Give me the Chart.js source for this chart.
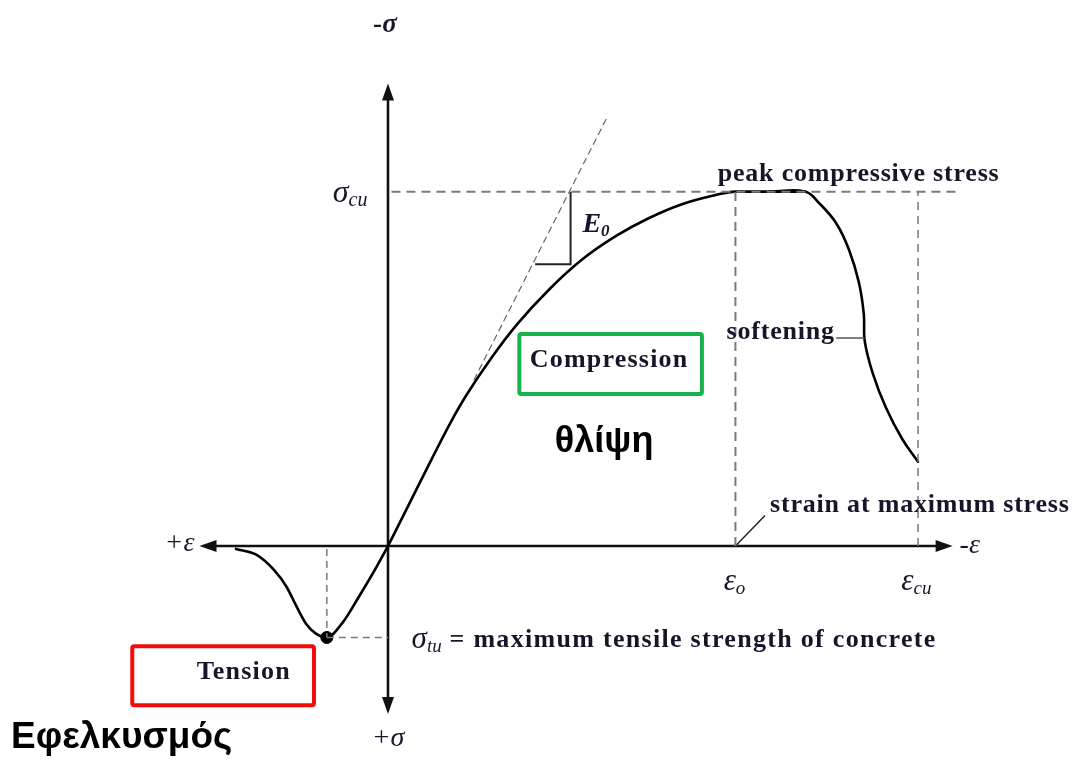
<!DOCTYPE html>
<html lang="el">
<head>
<meta charset="UTF-8">
<title>Concrete stress-strain curve</title>
<script src="https://cdn.jsdelivr.net/npm/chart.js"></script>
<style>
  html, body { margin: 0; padding: 0; background: #fff; }
  #wrap { width: 1080px; height: 765px; }
</style>
</head>
<body>
<div id="wrap"><canvas id="curve" width="1080" height="765"></canvas></div>
<script>
  // strain on x (ε0 = 2), stress on y (σcu = 1); compression drawn positive (right / up)
  // rising branch up to the end of the peak plateau
  const riseStrain = [0, 0.125, 0.25, 0.364, 0.449, 0.591, 0.744, 0.932, 1.119, 1.313, 1.5, 1.688, 1.881, 2.0, 2.2, 2.403];
  const riseStress = [0, 0.122, 0.244, 0.352, 0.424, 0.528, 0.626, 0.726, 0.809, 0.875, 0.925, 0.964, 0.99, 1.0, 1.0, 1.0];
  // softening branch after the plateau
  const softStrain = [2.2, 2.403, 2.483, 2.58, 2.653, 2.71, 2.739, 2.744, 2.79, 2.864, 2.96, 3.051];
  const softStress = [1.0, 1.0, 0.967, 0.911, 0.837, 0.745, 0.654, 0.579, 0.488, 0.393, 0.302, 0.238];

  const tensStrain = [-0.875, -0.756, -0.659, -0.585, -0.528, -0.472, -0.415, -0.352, -0.261, -0.165, -0.074, 0];
  const tensStress = [-0.008, -0.025, -0.066, -0.114, -0.169, -0.219, -0.247, -0.258, -0.216, -0.141, -0.066, 0];

  // key values
  const eps0 = 2.0, epsCu = 3.051, sigCu = 1.0;
  const epsTu = -0.352, sigTu = -0.258;

  // initial tangent (E0) and its slope triangle
  const tangentStrain = [0.494, 1.256];
  const tangentStress = [0.468, 1.205];
  const triStrain = [0.847, 1.051, 1.051];
  const triStress = [0.795, 0.795, 1.0];

  // axes extents
  const axisStrain = [-1.085, 3.25];
  const axisStress = [-0.474, 1.305];
  const peakLineEnd = 3.29;

  const pts = (xs, ys) => xs.map((x, i) => ({ x: x, y: ys[i] }));

  const dashGrey = { borderColor: '#7a7a7a', borderWidth: 2, borderDash: [9, 6], pointRadius: 0, tension: 0, showLine: true, fill: false };
  const curve = { borderColor: '#000', borderWidth: 2.6, pointRadius: 0, showLine: true, borderCapStyle: 'round', borderJoinStyle: 'round' };

  const datasets = [
    Object.assign({}, dashGrey, { data: pts([0.02, peakLineEnd], [sigCu, sigCu]) }),
    Object.assign({}, dashGrey, { data: pts([eps0, eps0], [0, sigCu]) }),
    Object.assign({}, dashGrey, { borderWidth: 1.5, borderDash: [8, 6], data: pts([epsCu, epsCu], [0, sigCu]) }),
    Object.assign({}, dashGrey, { borderWidth: 1.5, borderDash: [7, 5], data: pts([epsTu, epsTu], [-0.008, sigTu]) }),
    Object.assign({}, dashGrey, { borderWidth: 1.5, borderDash: [7, 5], data: pts([epsTu, 0], [sigTu, sigTu]) }),
    Object.assign({}, dashGrey, { borderColor: '#666', borderWidth: 1.2, borderDash: [7, 4], data: pts(tangentStrain, tangentStress) }),
    { data: pts(triStrain, triStress), borderColor: '#222', borderWidth: 2, pointRadius: 0, tension: 0, showLine: true },
    // leader lines
    { data: pts([2.58, 2.744], [0.587, 0.587]), borderColor: '#555', borderWidth: 1.5, pointRadius: 0, showLine: true },
    { data: pts([eps0, 2.17], [0, 0.086]), borderColor: '#222', borderWidth: 1.5, pointRadius: 0, showLine: true },
    // curves
    Object.assign({}, curve, { data: pts(riseStrain, riseStress), cubicInterpolationMode: 'monotone' }),
    Object.assign({}, curve, { data: pts(softStrain, softStress), tension: 0.4 }),
    Object.assign({}, curve, { data: pts(tensStrain, tensStress), cubicInterpolationMode: 'monotone' }),
    { data: [{ x: epsTu, y: sigTu }], pointRadius: 6, pointBackgroundColor: '#000', pointBorderColor: '#000', showLine: false }
  ];

  const serif = "'Liberation Serif', 'Times New Roman', serif";
  const sans = "'Liberation Sans', Arial, sans-serif";
  const ink = '#16162a';

  // text labels placed in data units
  const labels = [
    { x: 2.199, y: 0.116, text: 'strain at maximum stress', font: 'bold 26px ' + serif, align: 'left', ls: 0.8 },
    { x: 1.898, y: 1.05, text: 'peak compressive stress', font: 'bold 26px ' + serif, align: 'left', ls: 0.8 },
    { x: 1.949, y: 0.604, text: 'softening', font: 'bold 26px ' + serif, align: 'left', ls: 0.8 },
    { x: 1.273, y: 0.524, text: 'Compression', font: 'bold 26px ' + serif, align: 'center', ls: 1.2 },
    { x: -0.83, y: -0.355, text: 'Tension', font: 'bold 26px ' + serif, align: 'center', ls: 1.2 },
    { x: 1.244, y: 0.294, text: 'θλίψη', font: 'bold 36px ' + sans, align: 'center', color: '#000' },
    { x: -2.17, y: -0.54, text: 'Εφελκυσμός', font: 'bold 37px ' + sans, align: 'left', color: '#000' },
    { x: -1.114, y: 0.008, text: '+ε', font: 'italic 28px ' + serif, align: 'right' },
    { x: 3.29, y: 0.0, text: '-ε', font: 'italic 28px ' + serif, align: 'left' },
    { x: -0.017, y: 1.471, text: '-σ', font: 'bold italic 27px ' + serif, align: 'center' },
    { x: 0, y: -0.543, text: '+σ', font: 'italic 28px ' + serif, align: 'center' }
  ];
  // labels with a subscript
  const subLabels = [
    { x: -0.318, y: 0.994, main: 'σ', sub: 'cu', size: 32 },
    { x: 1.932, y: -0.102, main: 'ε', sub: 'o', size: 31 },
    { x: 2.955, y: -0.102, main: 'ε', sub: 'cu', size: 31 },
    { x: 1.119, y: 0.906, main: 'E', sub: '0', size: 28, bold: true },
    { x: 0.136, y: -0.266, main: 'σ', sub: 'tu', size: 31, tail: ' = maximum tensile strength of concrete' }
  ];
  const boxes = [
    { x0: 0.756, x1: 1.807, y0: 0.598, y1: 0.429, color: '#17b24a' },
    { x0: -1.472, x1: -0.426, y0: -0.283, y1: -0.449, color: '#f20d0d' }
  ];

  const overlay = {
    id: 'overlay',
    beforeDatasetsDraw(chart) {
      const c = chart.ctx, sx = chart.scales.x, sy = chart.scales.y;
      const x0 = sx.getPixelForValue(0), y0 = sy.getPixelForValue(0);
      c.save();
      c.strokeStyle = '#111';
      c.fillStyle = '#111';
      c.lineWidth = 2.6;
      const l = sx.getPixelForValue(axisStrain[0]), r = sx.getPixelForValue(axisStrain[1]);
      const t = sy.getPixelForValue(axisStress[1]), b = sy.getPixelForValue(axisStress[0]);
      c.beginPath();
      c.moveTo(l + 14, y0); c.lineTo(r - 14, y0);
      c.moveTo(x0, t + 14); c.lineTo(x0, b - 14);
      c.stroke();
      const head = (px, py, dx, dy) => {
        c.beginPath();
        c.moveTo(px, py);
        c.lineTo(px - dx * 17 - dy * 6, py - dy * 17 - dx * 6);
        c.lineTo(px - dx * 17 + dy * 6, py - dy * 17 + dx * 6);
        c.closePath();
        c.fill();
      };
      head(l, y0, -1, 0);
      head(r, y0, 1, 0);
      head(x0, t, 0, -1);
      head(x0, b, 0, 1);
      c.restore();
    },
    afterDatasetsDraw(chart) {
      const c = chart.ctx, sx = chart.scales.x, sy = chart.scales.y;
      c.save();
      boxes.forEach(bx => {
        const a = sx.getPixelForValue(bx.x0), b = sx.getPixelForValue(bx.x1);
        const p = sy.getPixelForValue(bx.y0), q = sy.getPixelForValue(bx.y1);
        c.strokeStyle = bx.color;
        c.lineWidth = 4;
        c.beginPath();
        c.roundRect(a, p, b - a, q - p, 2);
        c.stroke();
      });
      c.textBaseline = 'middle';
      labels.forEach(lb => {
        c.font = lb.font;
        c.letterSpacing = (lb.ls || 0) + 'px';
        c.fillStyle = lb.color || ink;
        c.textAlign = lb.align;
        c.fillText(lb.text, sx.getPixelForValue(lb.x), sy.getPixelForValue(lb.y));
      });
      c.textAlign = 'left';
      c.letterSpacing = '0px';
      subLabels.forEach(lb => {
        let px = sx.getPixelForValue(lb.x);
        const py = sy.getPixelForValue(lb.y);
        c.fillStyle = ink;
        c.font = (lb.bold ? 'bold ' : '') + 'italic ' + lb.size + 'px ' + serif;
        c.fillText(lb.main, px, py);
        px += c.measureText(lb.main).width;
        c.font = (lb.bold ? 'bold ' : '') + 'italic ' + Math.round(lb.size * 0.62) + 'px ' + serif;
        c.fillText(lb.sub, px, py + lb.size * 0.22);
        px += c.measureText(lb.sub).width;
        if (lb.tail) {
          c.font = 'bold 26px ' + serif;
          c.letterSpacing = '1.3px';
          c.fillText(lb.tail, px, py);
          c.letterSpacing = '0px';
        }
      });
      c.restore();
    }
  };

  new Chart(document.getElementById('curve'), {
    type: 'scatter',
    data: { datasets: datasets },
    options: {
      responsive: false,
      animation: false,
      devicePixelRatio: 1,
      layout: { padding: 0 },
      scales: {
        x: { type: 'linear', min: -2.193, max: 3.943, display: false },
        y: { type: 'linear', min: -0.598, max: 1.521, display: false }
      },
      plugins: { legend: { display: false }, tooltip: { enabled: false } }
    },
    plugins: [overlay]
  });
</script>
</body>
</html>
